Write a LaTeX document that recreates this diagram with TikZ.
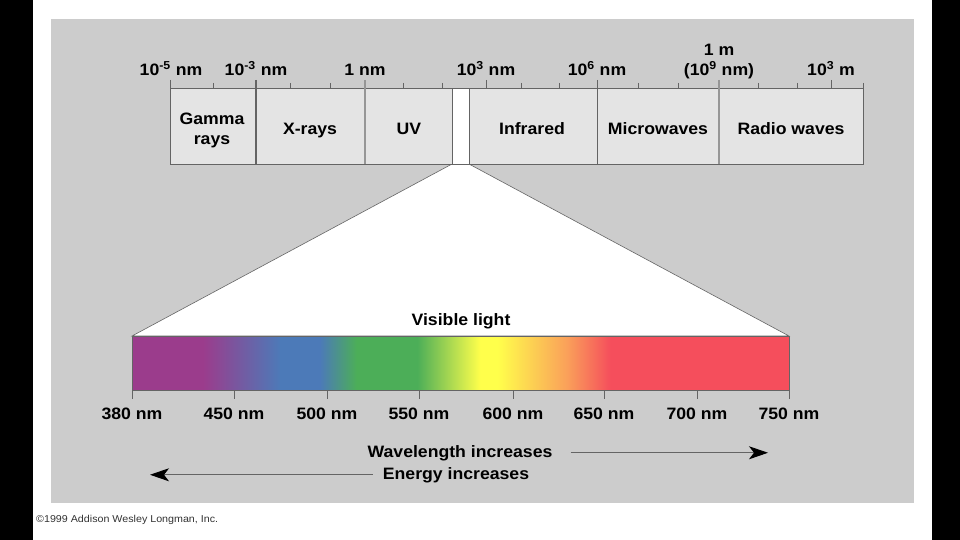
\documentclass[tikz,border=0pt]{standalone}
\usepackage{fontspec}
\setmainfont{Liberation Sans}[FakeStretch=1.07]
\usepackage{xcolor}
\usepackage{tikz}
\usetikzlibrary{arrows.meta, positioning, calc}

\definecolor{panelgray}{RGB}{204,204,204}
\definecolor{boxgray}{RGB}{228,228,228}
\definecolor{edgegray}{RGB}{100,100,100}
\definecolor{divgray}{RGB}{150,150,150}
\definecolor{vpurple}{RGB}{155,60,140}
\definecolor{vblue}{RGB}{76,122,184}
\definecolor{vgreen}{RGB}{76,174,88}
\definecolor{vyellow}{RGB}{255,255,75}
\definecolor{vorange}{RGB}{250,160,90}
\definecolor{vred}{RGB}{245,78,92}

\pgfdeclarehorizontalshading{visible}{100bp}{color(0bp)=(vpurple); color(30.4bp)=(vpurple);
  color(36.3bp)=(vblue); color(39.3bp)=(vblue); color(42.1bp)=(vgreen); color(46.7bp)=(vgreen);
  color(51.5bp)=(vyellow); color(52.8bp)=(vyellow); color(58.1bp)=(vorange); color(61.4bp)=(vred);
  color(100bp)=(vred)}

\begin{document}
\begin{tikzpicture}[x=1pt, y=-1pt,
    lbl/.style={font=\fontsize{16.5}{20}\selectfont\bfseries, inner sep=0pt},
    minortick/.style={edgegray, line width=0.8pt},
    arr/.style={-{Stealth[length=19pt, width=13pt, inset=5pt, color=black]}, line width=0.9pt, edgegray}]
    \useasboundingbox (0,0) rectangle (960,540);

    % Page and panel
    \fill[black] (0,0) rectangle (960,540);
    \fill[white] (33,0) rectangle (932,540);
    \fill[panelgray] (51,19) rectangle (914,503);

    % Zoom wedge to the visible band
    \filldraw[fill=white, draw=edgegray, line width=0.6pt] (452,164) -- (132,336) -- (789,336) -- (469,164);

    % Spectrum bar
    \filldraw[fill=boxgray, draw=edgegray, line width=0.8pt] (170,88) rectangle (863,164);
    \filldraw[fill=white, draw=edgegray, line width=0.6pt] (452,88) rectangle (469,164);
    \draw[edgegray, line width=1.3pt] (256,80) -- (256,164);
    \draw[divgray, line width=2pt] (365,80) -- (365,164);
    \draw[edgegray, line width=0.8pt] (597,80) -- (597,164);
    \draw[divgray, line width=2pt] (719,80) -- (719,164);

    % Ticks
    \foreach \x in {213,290,330,403,442,521,559,638,678,758,797,863}
        \draw[minortick] (\x,83) -- (\x,88);
    \foreach \x in {170,486,831}
        \draw[minortick] (\x,80) -- (\x,88);

    % Scale labels
    \node[lbl, anchor=base] (nmA) at (171,76) {10\textsuperscript{-5} nm};
    \node[lbl, anchor=base] (nmB) at (256,76) {10\textsuperscript{-3} nm};
    \node[lbl, anchor=base] (nmC) at (365,76) {1 nm};
    \node[lbl, anchor=base] (nmD) at (486,76) {10\textsuperscript{3} nm};
    \node[lbl, anchor=base] (nmE) at (597,76) {10\textsuperscript{6} nm};
    \node[lbl, align=center] (nmF) at (719,62) {1 m\\(10\textsuperscript{9} nm)};
    \node[lbl, anchor=base] (nmG) at (831,76) {10\textsuperscript{3} m};

    % Band names
    \node[lbl, align=center] (gamma) at (212,130) {Gamma\\rays};
    \node[lbl, anchor=base] (xray) at (310,135) {X-rays};
    \node[lbl, anchor=base] (uv) at (409,135) {UV};
    \node[lbl, anchor=base] (ir) at (532,135) {Infrared};
    \node[lbl, anchor=base] (micro) at (658,135) {Microwaves};
    \node[lbl, anchor=base] (radio) at (791,135) {Radio waves};

    % Visible light
    \node[lbl, anchor=base] (vis) at (461,325) {Visible light};
    \shade[shading=visible] (132,336) rectangle (789,390);
    \draw[edgegray, line width=0.6pt] (132,336) rectangle (789,390);
    \foreach \x/\w in {132/380, 234/450, 327/500, 419/550, 513/600, 604/650, 697/700, 789/750} {
        \draw[minortick] (\x,390) -- (\x,399);
        \node[lbl, anchor=base] (w\w) at (\x,419) {\w\ nm};
    }

    % Direction arrows
    \node[lbl, anchor=base] (wave) at (460,457) {Wavelength increases};
    \node[lbl, anchor=base] (energy) at (456,479) {Energy increases};
    \coordinate (waveend) at (768,452);
    \coordinate (energyend) at (150,473);
    \draw[arr] ([xshift=18pt]wave.east) -- (waveend |- wave.east);
    \draw[arr] ([xshift=-10pt]energy.west) -- (energyend |- energy.west);

    % Credit line
    \node[font=\fontsize{10}{12}\selectfont, text=black!80, anchor=base west, inner sep=0pt] (credit) at (36,522) {\textcopyright1999 Addison Wesley Longman, Inc.};
\end{tikzpicture}
\end{document}
